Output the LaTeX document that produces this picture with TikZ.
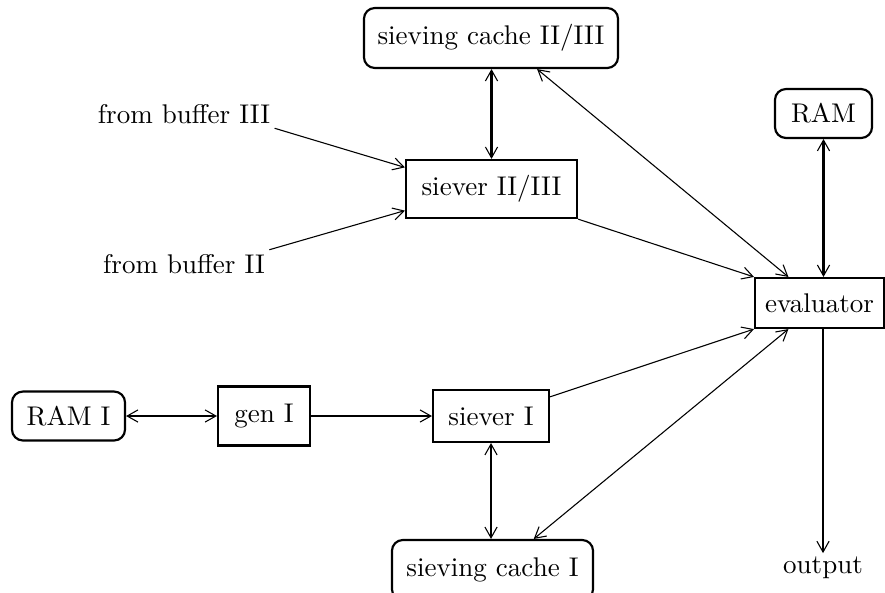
\documentclass[tikz,border=0pt]{standalone}
\usetikzlibrary{arrows.meta}
\begin{document}
\begin{tikzpicture}[x=0.37pt, y=-0.37pt,
    >={Straight Barb[length=4pt, width=4.5pt, line width=0.4pt]},
    box/.style={draw, line width=0.8pt, inner sep=0pt},
    rbox/.style={box, rounded corners=4pt},
    heavy/.style={line width=0.8pt},
    light/.style={line width=0.4pt}]
  \useasboundingbox (0, 0) rectangle (885, 592);
  \node [rbox, minimum width=94pt, minimum height=22.2pt] (c23) at (491, 38) {sieving cache II/III};
  \node [box, minimum width=63.3pt, minimum height=21.5pt] (s23) at (491.5, 189) {siever II/III};
  \node [rbox, minimum width=35.9pt, minimum height=18.1pt] (ram) at (823.5, 113.5) {RAM};
  \node [box, minimum width=47.7pt, minimum height=18.5pt] (ev) at (819.5, 303) {evaluator};
  \node [rbox, minimum width=41.8pt, minimum height=18.1pt] (ram1) at (68.5, 416) {RAM I};
  \node [box, minimum width=34pt, minimum height=21.8pt] (gen1) at (264, 416) {gen I};
  \node [box, minimum width=42.9pt, minimum height=19.2pt] (s1) at (491, 416) {siever I};
  \node [rbox, minimum width=74.4pt, minimum height=22.2pt] (c1) at (492.5, 570) {sieving cache I};
  \node [inner sep=1.5pt] (fb3) at (184, 114) {from buffer III};
  \node [inner sep=1.5pt] (fb2) at (184, 264) {from buffer II};
  \node [inner sep=1pt] (out) at (823, 567.3) {output};
  \draw [heavy, <->] (s23.north |- c23.south) -- (s23.north);
  \draw [light, ->] (fb3.south east) -- (s23.166);
  \draw [light, ->] (fb2.north east) -- (s23.194);
  \draw [light, ->] (s23.south east) -- (ev.north west);
  \draw [light, <->] (c23.-34) -- (ev.140);
  \draw [heavy, <->] (ram.south) -- (ram.south |- ev.north);
  \draw [heavy, <->] (ram1) -- (gen1);
  \draw [heavy, ->] (gen1) -- (s1);
  \draw [light, ->] (s1.18) -- (ev.south west);
  \draw [light, <->] (c1.37) -- (ev.220);
  \draw [heavy, <->] (s1.south) -- (s1.south |- c1.north);
  \draw [heavy, ->] (ev.south -| out.north) -- (out.north);
\end{tikzpicture}
\end{document}
